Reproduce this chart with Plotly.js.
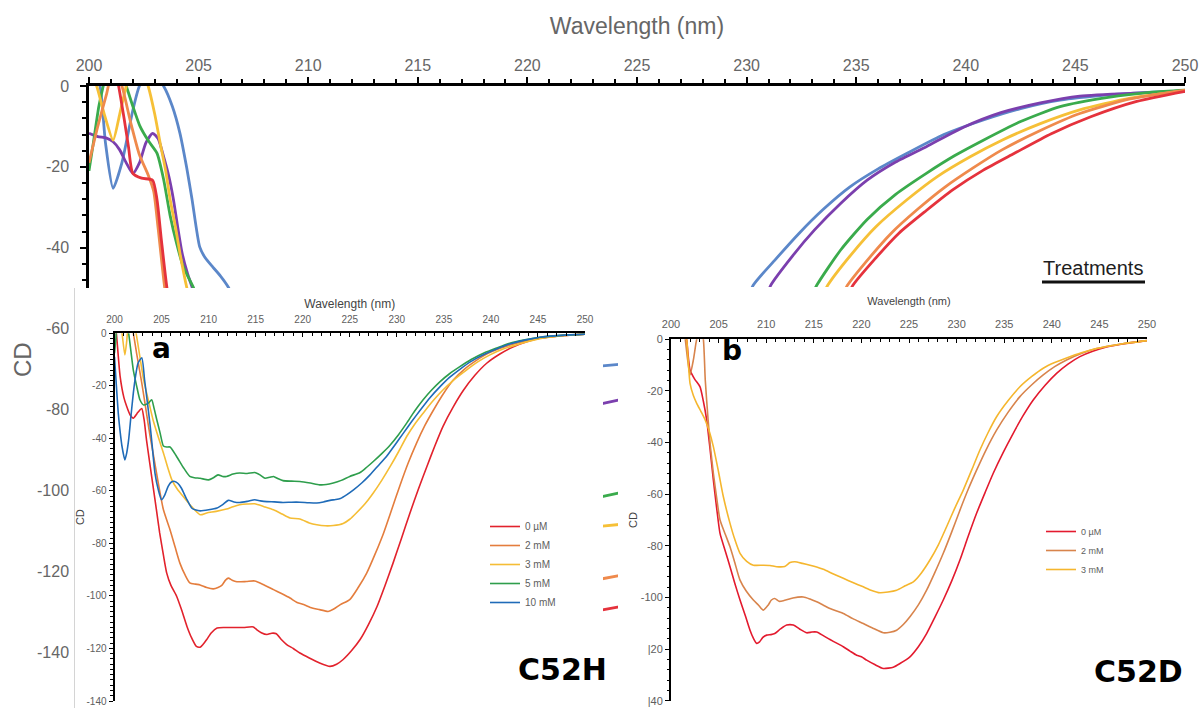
<!DOCTYPE html>
<html><head><meta charset="utf-8">
<script src="https://cdn.plot.ly/plotly-3.0.1.min.js"></script>
<style>html,body{margin:0;padding:0;background:#fff}#chart{width:1201px;height:708px}</style>
</head><body><div id="chart"></div>
<script>
// ---------- Background overview chart (six treatments) ----------
const bgBlueWl   = [200.3,200.5,200.75,201.1,201.5,202.0,202.3,202.8,203.4,203.8,204.15,204.45,204.7,205.05,205.3,205.65,206.0,206.35,206.8, null, 229.9,230.3,231.3,232.4,233.5,234.7,236.0,237.3,239.0,240.8,242.5,244.3,246.5,248.5,250];
const bgBlueCd   = [2,0,-14,-25.3,-19,-6,0,4,0,-5,-11.7,-20,-28,-39.8,-42.5,-44.8,-47,-49.7,-55, null, -55,-49.3,-43,-36.4,-30.5,-25,-20.5,-16.7,-12,-8.4,-5.6,-3.5,-2.2,-1.5,-1.2];
const bgPurpleWl = [200,200.4,200.8,201.1,201.4,201.7,202.0,202.3,202.6,202.9,203.15,203.4,203.65,203.85,204.05,204.25,204.5,204.7,205.0, null, 230.7,231.1,232.1,233.1,234.3,235.5,236.8,238.2,239.9,241.6,243.4,245.2,247.5,250];
const bgPurpleCd = [-11.7,-12.5,-12.9,-13.8,-15.8,-19,-21.6,-19,-14,-11.7,-13,-17.4,-22.5,-28,-35,-41.4,-46.5,-49.7,-55, null, -55,-49.3,-42,-35.6,-29,-23.3,-18.8,-15,-10.2,-6.6,-4.2,-2.5,-1.8,-1.4];
const bgGreenWl  = [200,200.2,200.45,200.65,200.9,201.4,201.7,202.0,202.33,202.7,203.1,203.4,203.7,204.0,204.3,204.75,205.0, null, 232.7,233.2,234.3,235.5,236.8,238.2,239.5,240.8,242.5,244.3,246.5,248.5,250];
const bgGreenCd  = [-21,-14,-5,0,6,5,0,-5,-10,-13.5,-16.6,-23,-32,-39,-44.7,-49.7,-53, null, -55,-49.3,-40.5,-33,-26.8,-21.6,-17.2,-13.4,-8.8,-5.1,-2.8,-1.5,-1];
const bgYellowWl = [200.1,200.35,200.7,201.1,201.4,201.7,202.0,202.5,202.7,203.0,203.25,203.5,203.7,203.95,204.15,204.45,204.7, null, 233.2,233.7,234.8,235.9,237.3,238.7,240.2,241.65,243.4,245.2,247.5,250];
const bgYellowCd = [3,0,-7,-13.4,-7,0,5,3,0,-7,-14.2,-21,-28,-35,-41.4,-49.6,-55, null, -55,-49.3,-41.5,-34.8,-28.2,-22.4,-17.5,-13.4,-9.3,-5.9,-3,-1.2];
const bgOrangeWl = [200,200.4,200.8,201.0,201.3,201.5,201.9,202.3,202.7,202.95,203.15,203.45,203.7, null, 234.1,234.6,235.6,236.6,237.8,239.05,240.35,241.65,243.4,245.2,247.5,250];
const bgOrangeCd = [-19,-10,-2,2,2,0,-9,-17,-22,-26,-35,-49.7,-58, null, -55,-49.3,-42.5,-36.4,-30.5,-25,-20.2,-15.8,-11,-6.8,-3.2,-1.0];
const bgRedWl    = [201.1,201.35,201.6,201.8,202.0,202.4,202.9,203.1,203.3,203.55,203.8, null, 234.35,234.85,235.9,236.95,238.2,239.4,240.8,242.2,243.9,245.7,247.8,250];
const bgRedCd    = [6,0,-8,-15,-21.6,-22.8,-23.3,-28,-38,-49.7,-58, null, -55,-49.3,-42.5,-36.4,-30.8,-25.7,-20.8,-16.7,-11.8,-7.6,-3.8,-1.3];

// "Treatments" legend samples peeking out between the panels
const treatColors     = ['#5b87c9','#7b3fae','#3aab4c','#f6c037','#ef8a4c','#e5323c'];
const treatSnippetWl  = [223.3, 224.3];
const treatSnippetL   = [-69.3,-78.7,-101.7,-108.9,-122.0,-129.7];
const treatSnippetR   = [-68.8,-77.5,-100.5,-108.4,-121.0,-128.7];

const bgTickVals = [0,-20,-40,-60,-80,-100,-120,-140];
const bgTickText = ['0','-20','-40','-60','-80','-100','-120','-140'];

// ---------- Panel a : C52H ----------
const aNames = ['0 µM','2 mM','3 mM','5 mM','10 mM'];
const aColors = ['#e2222c','#e47d3d','#f5bd35','#2e9e4c','#1f6bb8'];
const aRedWl = [200.0,200.2,200.6,201.0,201.3,201.65,202.0,202.4,202.7,202.9,203.15,203.4,203.75,204.1,204.45,204.8,205.2,205.55,206.0,206.6,207.1,207.7,208.2,208.7,209.1,209.4,209.8,210.3,210.9,211.7,212.6,213.7,214.75,215.1,215.6,216.2,216.7,217.2,217.7,218.3,219.0,219.7,220.7,221.8,222.9,223.6,224.3,225.2,226.1,227.0,227.9,228.75,229.6,230.5,231.4,232.3,233.2,234.05,234.9,236.0,237.1,238.3,239.55,241.0,242.4,243.8,245.2,247.5,250];
const aRedCd = [6,0,-16.5,-24.5,-27.9,-31,-32.3,-30.5,-29.2,-28.6,-33,-40.6,-49.5,-58.3,-67,-76,-84.5,-91.3,-96,-100.1,-105,-111.6,-116,-119.2,-119.5,-118.5,-116.6,-114,-112.2,-112,-112,-112,-111.8,-112.8,-114,-114.7,-114.2,-114.4,-116.5,-118.5,-120,-121.7,-123.6,-125.5,-126.8,-126,-124.2,-120.8,-116.6,-110.8,-104,-96,-87.5,-78,-68.4,-59.3,-50.7,-42.8,-35.5,-28,-21.6,-16,-11.4,-7.8,-5.1,-3.2,-1.9,-0.9,-0.3];
const aOrangeWl = [201.7,202.0,202.35,202.9,203.4,203.75,204.1,204.65,205.2,205.9,206.45,206.95,207.5,208.0,208.6,209.1,209.8,210.5,211.0,211.4,211.8,212.1,212.5,213.0,214.0,214.9,215.9,216.9,217.8,218.65,219.4,220.1,221.0,221.8,222.7,223.3,224.0,225.0,225.9,226.8,227.7,228.6,229.45,230.3,231.2,232.1,233.0,233.9,234.95,236.0,237.2,238.5,239.7,241.0,242.7,244.5,247.0,250];
const aOrangeCd = [4,0,-7.6,-19,-30.4,-38.5,-45.6,-57,-67.2,-74.8,-81.5,-87.5,-92,-95,-95.5,-95.8,-96.8,-97.3,-96.8,-96,-94,-93.2,-94,-94.6,-94.5,-94.3,-95.8,-97.6,-99.2,-100.8,-102.5,-103.3,-104.6,-105.2,-105.9,-105,-103.3,-101.4,-96.8,-91.3,-84,-76,-67.2,-58.3,-49.5,-41.8,-35,-29.2,-23,-17.8,-13.6,-10.2,-7.6,-5.7,-3.8,-2.3,-1.1,-0.3];
const aYellowWl = [200.6,200.8,201.1,201.3,201.45,202.0,202.3,202.7,203.1,203.6,204.1,204.65,205.2,205.65,206.1,206.7,207.3,208.2,209.1,209.8,210.8,211.9,212.6,213.3,214.1,214.9,215.9,216.9,217.8,218.65,219.7,220.7,221.5,222.4,223.25,224.3,225.0,225.7,226.6,227.5,228.4,229.3,230.2,231.05,231.9,232.8,233.85,234.9,236.1,237.4,238.6,239.9,241.3,242.7,244.3,245.9,248,250];
const aYellowCd = [4,0,-8.2,-3,2,5,0,-9,-17.8,-25.5,-33,-39.5,-45.6,-51,-55.8,-59.5,-62.1,-66,-69.1,-68.4,-67.8,-66.9,-66,-65.3,-65,-64.9,-66,-67.2,-68.8,-70.3,-70.7,-72.2,-72.9,-73.3,-73.2,-72.4,-70.8,-68.4,-65,-60.8,-56,-50.7,-45,-39.3,-34.6,-30.4,-25.7,-21.6,-17.6,-14,-10.9,-8.2,-6,-4.4,-2.8,-1.6,-0.8,-0.3];
const aGreenWl = [200.0,200.15,200.3,201.2,201.5,201.75,202.0,202.35,202.7,203.1,203.6,203.95,204.2,204.5,204.85,205.2,205.55,205.9,206.6,207.3,208.0,208.5,209.1,210.0,210.5,211.0,211.5,211.9,212.6,213.3,214.1,214.9,215.5,216.0,216.5,216.9,217.4,217.9,218.8,219.7,220.8,221.8,222.5,223.25,224.1,225.0,226.1,226.8,227.5,228.4,229.3,230.2,231.05,231.9,232.8,233.7,234.6,235.6,236.7,237.9,239.2,240.6,242.0,243.6,245.2,247.5,250];
const aGreenCd = [-7.6,-2,3,4,0,-7,-14,-20,-25.3,-27.3,-26.6,-25.3,-28.5,-33,-38,-42.9,-43.3,-43.3,-46.9,-51,-54.5,-55,-55.2,-55.8,-55,-53.9,-54.5,-54.5,-53.6,-53.2,-53.4,-53,-54,-55.2,-54.8,-54.5,-55.4,-56.1,-56.3,-56.4,-57,-57.7,-57.6,-57,-56,-54.5,-53,-51,-48.8,-45.8,-42.5,-38.5,-34.2,-29.6,-25.3,-21.6,-18.4,-15.4,-12.7,-10,-7.6,-5.6,-3.8,-2.5,-1.5,-0.8,-0.3];
const aBlueWl = [200.0,200.2,200.4,200.6,200.8,201.1,201.3,201.5,201.75,202.0,202.25,202.5,202.9,203.2,203.5,203.8,204.05,204.3,204.65,205.0,205.35,205.7,206.05,206.4,206.75,207.1,207.65,208.2,208.65,209.1,210.0,210.9,211.5,212.1,212.7,213.3,214.1,214.9,215.5,216.2,217.0,217.9,218.8,219.7,220.6,221.5,222.2,222.9,223.5,224.0,224.7,225.4,226.3,227.15,228.0,228.9,229.8,230.7,231.6,232.5,233.5,234.6,235.6,236.7,237.9,239.2,240.6,242.0,243.6,245.2,247.5,250];
const aBlueCd = [-8.9,-20,-30.4,-37.5,-43.1,-48.2,-45.5,-40.6,-31.5,-22.8,-16,-11.4,-9.3,-17.8,-26.5,-35.5,-44.5,-53.2,-59.5,-63.4,-61.5,-58.3,-56.6,-56.4,-57.2,-58.9,-63,-66.5,-67.3,-67.6,-67.2,-66.5,-65.2,-63.6,-64.2,-64.4,-64,-63.4,-63.8,-64.1,-64.2,-64.4,-64.3,-64.3,-64.5,-64.6,-64.2,-63.6,-63.3,-62.9,-61.4,-59.6,-56.9,-53.9,-50.5,-46.9,-42.5,-38,-33.5,-29.2,-24.6,-20.3,-16.8,-13.7,-10.7,-8.2,-6,-4.1,-2.6,-1.5,-0.8,-0.3];

// ---------- Panel b : C52D ----------
const bNames = ['0 µM','2 mM','3 mM'];
const bColors = ['#e31a2e','#d8844c','#f5b62e'];
const bRedWl = [201.5,201.65,202.0,202.5,203.05,203.4,203.75,204.1,204.45,204.8,205.15,205.7,206.2,206.7,207.25,207.8,208.3,208.65,209.0,209.3,209.65,210.05,210.5,210.9,211.5,212.15,212.85,213.5,214.25,214.8,215.3,216.0,216.7,217.4,218.1,218.8,219.5,220.0,220.55,221.4,222.3,223.35,224.05,225.1,226.0,226.85,227.7,228.6,229.5,230.35,231.2,232.1,233.0,233.85,234.9,235.95,237.0,238.05,239.3,240.5,241.7,242.95,244.3,245.75,247.8,250];
const bRedCd = [4,0,-11.9,-15.5,-18.4,-24,-31.3,-42.5,-54.5,-65.5,-75.2,-82,-88.1,-94.5,-101,-107,-112.7,-115.8,-117.8,-117.2,-115.5,-114.6,-114.4,-114,-112.2,-110.7,-110.7,-112.2,-113.7,-113.4,-113.4,-114.8,-116.3,-117.7,-119.1,-120.8,-122.4,-123,-124.3,-126,-127.5,-127,-125.6,-123,-119,-114,-107.8,-101,-93.5,-85.5,-76.5,-67.4,-59.3,-51.9,-43.8,-36.4,-29.5,-23.5,-17.8,-13.2,-9.6,-6.7,-4.6,-3,-1.6,-0.5];
const bOrangeWl = [201.4,201.5,201.75,202.0,202.35,202.6,202.7,202.9,203.2,203.4,203.6,203.9,204.15,204.45,204.8,205.15,205.7,206.2,206.7,207.25,207.9,208.65,209.2,209.7,210.2,210.55,210.9,211.35,211.8,212.8,213.9,214.6,215.3,216.0,216.7,217.4,218.1,219.1,220.2,221.2,222.3,223.0,223.7,224.4,225.1,226.0,226.85,227.7,228.6,229.5,230.35,231.2,232.1,233.1,234.2,235.4,236.65,237.9,239.1,240.3,241.55,243.1,244.7,247.3,250];
const bOrangeCd = [3,0,-8,-13.8,-8,-2,0,4,3,0,-15.8,-31.3,-42,-51.9,-61.5,-70,-75.5,-80.4,-86.5,-93.3,-97.5,-101,-103,-104.9,-103,-101,-100.4,-101.5,-101.3,-100.2,-99.8,-100.6,-101.7,-103,-104.3,-105.3,-106.2,-108.2,-110.1,-111.9,-113.7,-113.5,-112.7,-110.5,-107.5,-102.8,-97.2,-90.5,-82.9,-74.5,-66.2,-58.3,-50.7,-42.8,-35.2,-28.3,-22.2,-17.6,-13.8,-10.6,-8,-5.5,-3.6,-1.8,-0.5];
const bYellowWl = [201.5,201.65,202.0,202.35,202.7,203.15,203.6,204.05,204.45,205.0,205.5,206.2,206.7,207.25,207.95,208.65,209.7,210.4,211.1,211.95,212.5,213.0,213.8,214.6,215.3,216.0,217.0,218.1,219.1,220.2,221.0,221.95,222.8,223.7,224.6,225.45,226.3,227.2,228.1,228.95,229.8,230.7,231.6,232.45,233.3,234.2,235.4,236.65,237.9,239.1,240.3,241.55,243.1,244.7,247.3,250];
const bYellowCd = [3,0,-17.1,-21.8,-24.8,-28,-31.3,-36,-41.6,-51.5,-61,-71.3,-77.5,-82.9,-86,-87.5,-87.5,-87.6,-88.1,-88,-86.5,-86.2,-86.8,-87.5,-88.2,-89.1,-90.8,-92.6,-94.2,-95.9,-97.2,-98.2,-97.9,-97.2,-95.5,-94,-90.5,-85.5,-79.5,-72.6,-65.5,-58.4,-50.5,-42.9,-36.2,-30,-23.8,-18.4,-14.4,-11.2,-9,-7.2,-5.2,-3.6,-1.8,-0.5];

const panelTickVals = [0,-20,-40,-60,-80,-100,-120,-140];
const aTickText = ['0','-20','-40','-60','-80','-100','-120','-140'];
const bTickText = ['0','-20','-40','-60','-80','-100','|20','|40'];

// ---------- layout helpers (pixel -> paper) ----------
const W = 1201, H = 708;
const px = v => v / W;
const py = v => 1 - v / H;
const GREY = '#5e5e5e';
const NARROW = '"Liberation Sans Narrow", "Liberation Sans", Arial, sans-serif';
const SANS = '"Liberation Sans", Arial, sans-serif';
const BOLD = '"DejaVu Sans", sans-serif';

const traces = [];
// background
const bgSeries = [
  [bgBlueWl, bgBlueCd, treatColors[0]],
  [bgPurpleWl, bgPurpleCd, treatColors[1]],
  [bgGreenWl, bgGreenCd, treatColors[2]],
  [bgYellowWl, bgYellowCd, treatColors[3]],
  [bgOrangeWl, bgOrangeCd, treatColors[4]],
  [bgRedWl, bgRedCd, treatColors[5]]
];
bgSeries.forEach(s => traces.push({type:'scatter', mode:'lines', x:s[0], y:s[1], xaxis:'x', yaxis:'y',
  line:{color:s[2], width:2.8, shape:'spline', smoothing:0.6}, showlegend:false, hoverinfo:'skip'}));
treatColors.forEach((c,i) => traces.push({type:'scatter', mode:'lines', x:treatSnippetWl, y:[treatSnippetL[i], treatSnippetR[i]],
  xaxis:'x', yaxis:'y', line:{color:c, width:2.8}, showlegend:false, hoverinfo:'skip'}));
// cover for panel a
traces.push({type:'scatter', mode:'lines', x:[], y:[], xaxis:'x2', yaxis:'y2', showlegend:false, hoverinfo:'skip'});
// panel a
const aSeries = [[aRedWl,aRedCd],[aOrangeWl,aOrangeCd],[aYellowWl,aYellowCd],[aGreenWl,aGreenCd],[aBlueWl,aBlueCd]];
aSeries.forEach((s,i) => traces.push({type:'scatter', mode:'lines', name:aNames[i], x:s[0], y:s[1], xaxis:'x3', yaxis:'y3',
  line:{color:aColors[i], width:1.6, shape:'spline', smoothing:0.6}, legend:'legend', hoverinfo:'x+y'}));
// cover for panel b
traces.push({type:'scatter', mode:'lines', x:[], y:[], xaxis:'x4', yaxis:'y4', showlegend:false, hoverinfo:'skip'});
// panel b
const bSeries = [[bRedWl,bRedCd],[bOrangeWl,bOrangeCd],[bYellowWl,bYellowCd]];
bSeries.forEach((s,i) => traces.push({type:'scatter', mode:'lines', name:bNames[i], x:s[0], y:s[1], xaxis:'x5', yaxis:'y5',
  line:{color:bColors[i], width:1.6, shape:'spline', smoothing:0.6}, legend:'legend2', hoverinfo:'x+y'}));

function panelX(domain, anchor, fontSize, titleSize, labelStandoff, standoff) {
  return {domain:domain, anchor:anchor, side:'top', range:[200,250], tick0:200, dtick:5,
    ticks:'inside', ticklen:4, tickwidth:1.2, tickcolor:'#000',
    minor:{tick0:200, dtick:1, ticks:'inside', ticklen:3, tickwidth:1, tickcolor:'#000'},
    showline:true, linewidth:2, linecolor:'#000', showgrid:false, zeroline:false, fixedrange:true,
    ticklabelstandoff:labelStandoff,
    tickfont:{family:NARROW, size:fontSize, color:GREY},
    title:{text:'Wavelength (nm)', font:{family:NARROW, size:titleSize, color:'#444'}, standoff:standoff}};
}
function panelY(domain, anchor, ticktext, fontSize, minorStep, standoff) {
  return {domain:domain, anchor:anchor, range:[-140,0], tickmode:'array', tickvals:panelTickVals, ticktext:ticktext,
    ticks:'outside', ticklen:4, tickwidth:1.2, tickcolor:'#000',
    minor:{tickmode:'linear', tick0:0, dtick:minorStep, ticks:'outside', ticklen:2.5, tickwidth:1, tickcolor:'#000'},
    showline:true, linewidth:2, linecolor:'#000', showgrid:false, zeroline:false, fixedrange:true,
    tickfont:{family:NARROW, size:fontSize, color:GREY},
    title:{text:'CD', font:{family:NARROW, size:11, color:'#444'}, standoff:standoff}};
}
const coverAxis = (domain, anchor) => ({domain:domain, anchor:anchor, range:[0,1], visible:false, fixedrange:true});

const layout = {
  width:W, height:H, margin:{l:0, r:0, t:0, b:0, pad:0},
  paper_bgcolor:'#ffffff', plot_bgcolor:'#ffffff',
  font:{family:SANS, color:GREY},
  hovermode:'closest',
  xaxis:{domain:[px(89), px(1185)], range:[200,250], anchor:'y', side:'top', tick0:200, dtick:5,
    ticks:'outside', ticklen:6, tickwidth:2, tickcolor:'#000',
    minor:{tick0:200, dtick:1, ticks:'outside', ticklen:4, tickwidth:2, tickcolor:'#000'},
    showline:true, linewidth:2.5, linecolor:'#000', showgrid:false, zeroline:false, fixedrange:true,
    tickfont:{family:SANS, size:16, color:'#666'},
    title:{text:'Wavelength (nm)', font:{family:SANS, size:23, color:'#666'}, standoff:16}},
  yaxis:{domain:[0, py(86)], range:[-(708-86)/4.043, 0], anchor:'x',
    tickmode:'array', tickvals:bgTickVals, ticktext:bgTickText,
    ticks:'outside', ticklen:6, tickwidth:2, tickcolor:'#000',
    minor:{tickmode:'linear', tick0:0, dtick:4, ticks:'outside', ticklen:4, tickwidth:2, tickcolor:'#000'},
    showline:true, linewidth:2.5, linecolor:'#000', showgrid:false, zeroline:false, fixedrange:true,
    ticklabelstandoff:8,
    tickfont:{family:SANS, size:16, color:'#666'}},
  xaxis2: coverAxis([px(75), px(603)], 'y2'),
  yaxis2: {domain:[0, py(288)], anchor:'x2', range:[0,1], visible:true, showline:true, linewidth:1, linecolor:'#d4d4d4',
    showticklabels:false, ticks:'', showgrid:false, zeroline:false, fixedrange:true},
  xaxis3: panelX([px(114.5), px(585)], 'y3', 10, 12, 4, 3),
  yaxis3: panelY([py(701), py(333.3)], 'x3', aTickText, 10, 2, 0),
  xaxis4: coverAxis([px(618), 1], 'y4'),
  yaxis4: coverAxis([0, py(287)], 'x4'),
  xaxis5: panelX([px(671), px(1147)], 'y5', 11, 11, 5, 10),
  yaxis5: panelY([py(700.7), py(339.3)], 'x5', bTickText, 11, 4, 1),
  legend:{x:px(485), y:py(512), xanchor:'left', yanchor:'top', bgcolor:'rgba(0,0,0,0)', borderwidth:0,
    font:{family:NARROW, size:10, color:GREY}, tracegroupgap:0},
  legend2:{x:px(1041), y:py(517), xanchor:'left', yanchor:'top', bgcolor:'rgba(0,0,0,0)', borderwidth:0,
    font:{family:SANS, size:9, color:GREY}, tracegroupgap:0},
  annotations:[
    {text:'CD', xref:'paper', yref:'paper', x:px(22), y:py(360), xanchor:'center', yanchor:'middle', textangle:-90,
      showarrow:false, font:{family:SANS, size:24, color:'#666'}},
    {text:'Treatments', xref:'paper', yref:'paper', x:px(1093), y:py(268), xanchor:'center', yanchor:'middle',
      showarrow:false, font:{family:SANS, size:20, color:'#1e1e1e'}},
    {text:'<b>a</b>', xref:'paper', yref:'paper', x:px(161.5), y:py(348.5), xanchor:'center', yanchor:'middle',
      showarrow:false, font:{family:BOLD, size:28, color:'#000'}},
    {text:'<b>b</b>', xref:'paper', yref:'paper', x:px(731.5), y:py(350.5), xanchor:'center', yanchor:'middle',
      showarrow:false, font:{family:BOLD, size:28, color:'#000'}},
    {text:'<b>C52H</b>', xref:'paper', yref:'paper', x:px(562.5), y:py(669.5), xanchor:'center', yanchor:'middle',
      showarrow:false, font:{family:BOLD, size:30, color:'#000'}},
    {text:'<b>C52D</b>', xref:'paper', yref:'paper', x:px(1138.5), y:py(671.5), xanchor:'center', yanchor:'middle',
      showarrow:false, font:{family:BOLD, size:30, color:'#000'}}
  ],
  shapes:[
    {type:'line', xref:'paper', yref:'paper', x0:px(1042), x1:px(1145), y0:py(282), y1:py(282),
      line:{color:'#111', width:3}, layer:'above'}
  ]
};

Plotly.newPlot('chart', traces, layout, {displayModeBar:false, responsive:false});
</script></body></html>
